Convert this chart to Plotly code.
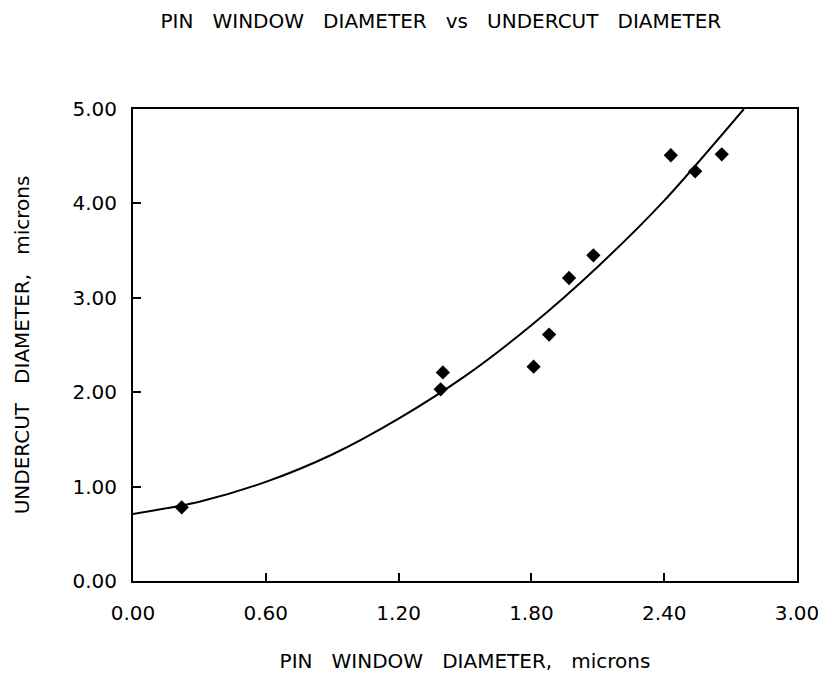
import plotly.graph_objects as go

# Measured data points (pin window diameter vs undercut diameter, microns)
pin_window = [0.22, 1.39, 1.40, 1.81, 1.88, 1.97, 2.08, 2.43, 2.54, 2.66]
undercut = [0.78, 2.03, 2.21, 2.27, 2.61, 3.21, 3.45, 4.51, 4.34, 4.52]

# Fitted curve
curve_x = [0.00, 0.30, 0.60, 0.90, 1.20, 1.50, 1.80, 2.10, 2.40, 2.76]
curve_y = [0.71, 0.84, 1.05, 1.34, 1.72, 2.17, 2.71, 3.33, 4.03, 5.00]

x_ticks = [0.0, 0.6, 1.2, 1.8, 2.4, 3.0]
x_labels = ["0.00", "0.60", "1.20", "1.80", "2.40", "3.00"]
y_ticks = [0, 1, 2, 3, 4, 5]
y_labels = ["0.00", "1.00", "2.00", "3.00", "4.00", "5.00"]

FONT = "DejaVu Sans"

fig = go.Figure()
fig.add_trace(go.Scatter(
    x=curve_x, y=curve_y, mode="lines",
    line=dict(color="black", width=2, shape="spline", smoothing=0.8),
    showlegend=False, hoverinfo="skip"))
fig.add_trace(go.Scatter(
    x=pin_window, y=undercut, mode="markers",
    marker=dict(symbol="diamond", size=11, color="black"),
    showlegend=False))

fig.update_layout(
    width=826, height=682,
    margin=dict(l=125, r=37, t=101, b=109),
    paper_bgcolor="white", plot_bgcolor="white",
    font=dict(family=FONT, color="black", size=18),
    title=dict(text="PIN   WINDOW   DIAMETER   vs   UNDERCUT   DIAMETER",
               x=0.524, xanchor="center", y=0.981, yanchor="middle",
               font=dict(family=FONT, size=20, color="black")),
    xaxis=dict(range=[0, 3.0], tickvals=x_ticks, ticktext=x_labels,
               showgrid=False, zeroline=False,
               showline=True, linecolor="black", linewidth=2, mirror=True,
               ticks="inside", ticklen=8, tickwidth=2, tickcolor="black",
               ticklabelstandoff=13,
               tickfont=dict(family=FONT, size=20),
               title=dict(text="PIN   WINDOW   DIAMETER,   microns", standoff=30,
                          font=dict(family=FONT, size=20))),
    yaxis=dict(range=[0, 5.0], tickvals=y_ticks, ticktext=y_labels,
               showgrid=False, zeroline=False,
               showline=True, linecolor="black", linewidth=2, mirror=True,
               ticks="inside", ticklen=8, tickwidth=2, tickcolor="black",
               ticklabelstandoff=10,
               tickfont=dict(family=FONT, size=20),
               title=dict(text="UNDERCUT   DIAMETER,   microns", standoff=37,
                          font=dict(family=FONT, size=20))),
)

fig.write_html("out.html")
